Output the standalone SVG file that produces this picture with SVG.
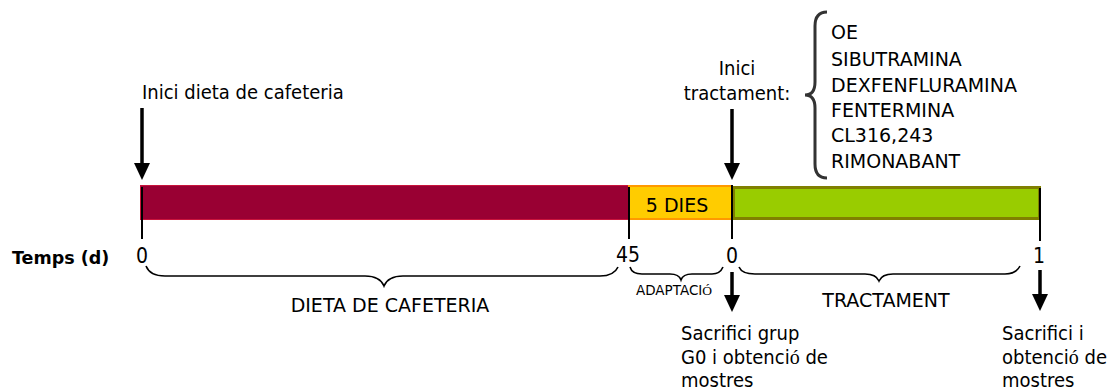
<svg xmlns="http://www.w3.org/2000/svg" width="1109" height="392" viewBox="0 0 1109 392">
  <style>
    text { font-family: "DejaVu Sans Condensed", "DejaVu Sans", sans-serif; font-stretch: condensed; font-size: 20px; fill: #000; }
    .caps { font-family: "DejaVu Sans", sans-serif; font-stretch: normal; font-size: 19px; }
    .small { font-family: "DejaVu Sans", sans-serif; font-stretch: normal; font-size: 13.5px; }
    .bold { font-family: "DejaVu Sans", sans-serif; font-stretch: normal; font-weight: bold; font-size: 17.5px; }
    .num { font-size: 21px; }
    .serif { font-family: "Liberation Serif", serif; font-stretch: normal; }
    .mid { text-anchor: middle; }
    .tick { stroke: #000; stroke-width: 2; }
    .arrow { stroke: #000; stroke-width: 3.5; fill: none; }
    .brace { stroke: #000; stroke-width: 1.6; fill: none; }
  </style>

  <!-- timeline bars -->
  <g id="bar-dieta">
    <rect x="140.5" y="185.5" width="488" height="34" fill="#990033" stroke="#c8143c" stroke-width="1"/>
  </g>
  <g id="bar-adaptacio">
    <rect x="629" y="186" width="103" height="33" fill="#ffcc00" stroke="#ff9900" stroke-width="2"/>
    <text x="677" y="212" class="mid caps">5 DIES</text>
  </g>
  <g id="bar-tractament">
    <rect x="733.5" y="187.5" width="306" height="31" fill="#99cc00" stroke="#808000" stroke-width="3"/>
  </g>

  <!-- ticks, arrows and braces -->
  <g id="connectors">
    <line class="tick" x1="142" y1="187" x2="142" y2="239"/>
    <line class="tick" x1="629" y1="187" x2="629" y2="239"/>
    <line class="tick" x1="732" y1="185" x2="732" y2="239"/>
    <line class="tick" x1="1040" y1="188" x2="1040" y2="241"/>

    <line class="arrow" x1="142" y1="108" x2="142" y2="166"/>
    <polygon points="134,163 150,163 142,180" fill="#000"/>
    <line class="arrow" x1="732" y1="109" x2="732" y2="166"/>
    <polygon points="724,163 740,163 732,180" fill="#000"/>
    <line class="arrow" x1="732" y1="272" x2="732" y2="298"/>
    <polygon points="724,295 740,295 732,312" fill="#000"/>
    <line class="arrow" x1="1040" y1="270" x2="1040" y2="297"/>
    <polygon points="1032,294 1048,294 1040,311" fill="#000"/>

    <path class="brace" d="M146 266 Q150 276 165 276 L365 276 Q380 276 384 286 Q388 276 403 276 L600 276 Q614 276 618 267"/>
    <path class="brace" d="M630 267 Q632 274 642 274 L670 274 Q679 274 681 280 Q683 274 692 274 L712 274 Q720 274 723 267"/>
    <path class="brace" d="M739 267 Q742 274 755 274 L865 274 Q876 274 879 281 Q882 274 893 274 L1005 274 Q1016 274 1020 266"/>
    <path d="M827 12 Q815 12 815 26 L815 82 Q815 95 805 95 Q815 95 815 108 L815 164 Q815 178 827 178" fill="none" stroke="#333" stroke-width="3"/>
  </g>

  <!-- labels -->
  <g id="label-inici-dieta">
    <text x="142" y="99">Inici dieta de cafeteria</text>
  </g>
  <g id="label-inici-tractament">
    <text x="737" y="75" class="mid">Inici</text>
    <text x="737" y="100" class="mid">tractament:</text>
  </g>
  <g id="label-tractaments">
    <text x="831" y="39" class="caps">OE</text>
    <text x="831" y="66" class="caps">SIBUTRAMINA</text>
    <text x="831" y="92" class="caps">DEXFENFLURAMINA</text>
    <text x="831" y="117" class="caps">FENTERMINA</text>
    <text x="831" y="142" class="caps">CL316,243</text>
    <text x="831" y="168" class="caps">RIMONABANT</text>
  </g>
  <g id="axis">
    <text x="12" y="264" class="bold">Temps (d)</text>
    <text x="142" y="263" class="mid num">0</text>
    <text x="628" y="262" class="mid num">45</text>
    <text x="732" y="263" class="mid num">0</text>
    <text x="1039" y="263" class="mid num">1</text>
  </g>
  <g id="label-periodes">
    <text x="390" y="312" class="mid caps">DIETA DE CAFETERIA</text>
    <text x="674" y="295" class="mid small">ADAPTACI<tspan class="serif">Ó</tspan></text>
    <text x="886" y="307" class="mid caps">TRACTAMENT</text>
  </g>
  <g id="label-sacrifici-g0">
    <text x="681" y="340">Sacrifici grup</text>
    <text x="681" y="364">G0 i obtenci<tspan class="serif">ó</tspan> de</text>
    <text x="681" y="387">mostres</text>
  </g>
  <g id="label-sacrifici-final">
    <text x="1002" y="340">Sacrifici i</text>
    <text x="1002" y="364">obtenci<tspan class="serif">ó</tspan> de</text>
    <text x="1002" y="387">mostres</text>
  </g>
</svg>
